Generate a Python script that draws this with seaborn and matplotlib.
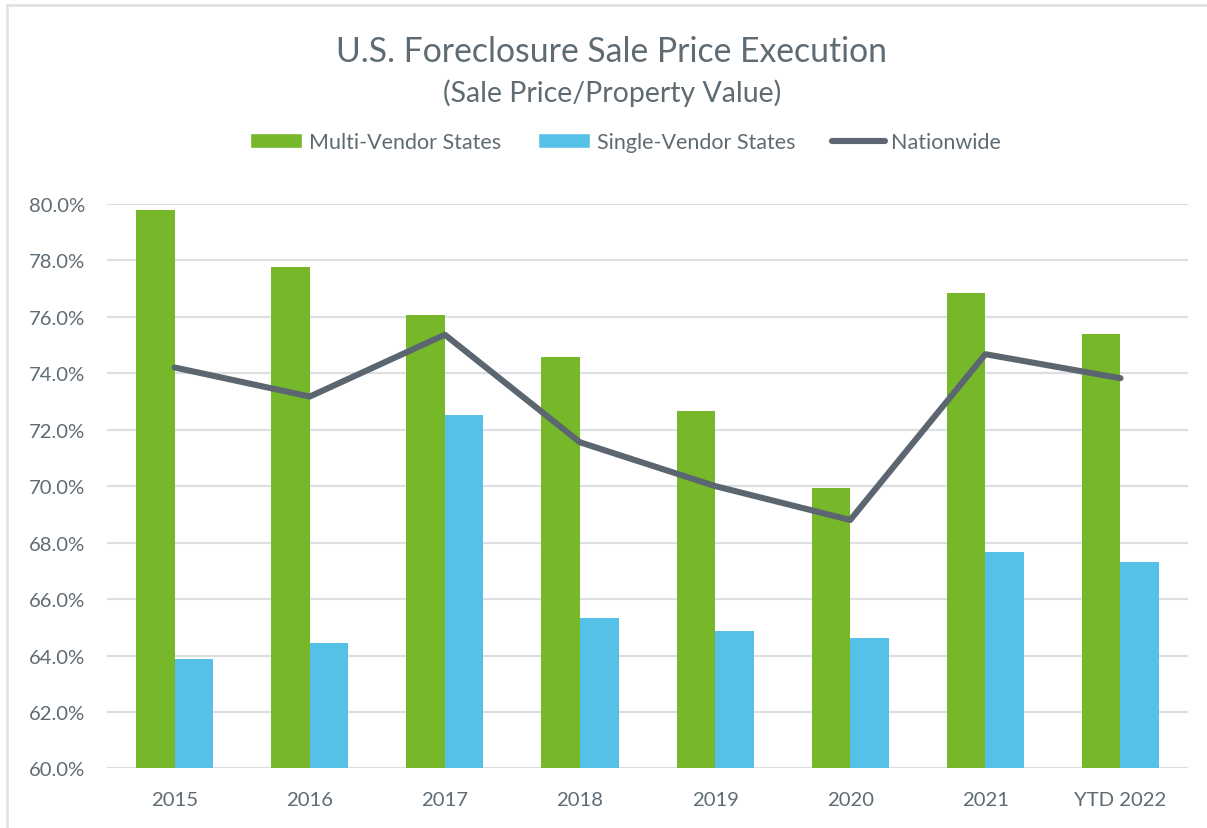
import numpy as np
import pandas as pd
import matplotlib.pyplot as plt
import seaborn as sns
from matplotlib.patches import Patch, Rectangle
from matplotlib.lines import Line2D
from matplotlib.ticker import FuncFormatter

# values (percent)
years = ['2015', '2016', '2017', '2018', '2019', '2020', '2021', 'YTD 2022']
multi_vendor = [79.77, 77.76, 76.05, 74.56, 72.65, 69.92, 76.83, 75.40]
single_vendor = [63.88, 64.44, 72.50, 65.32, 64.87, 64.63, 67.65, 67.32]
nationwide = [74.20, 73.17, 75.36, 71.55, 70.00, 68.80, 74.67, 73.82]

green = '#77B82A'
blue = '#56C1E8'
line_col = '#5B6670'
text_col = '#5F6B73'
grid_col = '#DCE0E3'

df = pd.DataFrame({'year': years * 2,
                   'value': multi_vendor + single_vendor,
                   'group': ['Multi-Vendor States'] * len(years) + ['Single-Vendor States'] * len(years)})

sns.set_theme(style='white')
plt.rcParams['font.family'] = ['Lato', 'DejaVu Sans']

fig = plt.figure(figsize=(12.07, 8.29), dpi=100)
ax = fig.add_axes([0.0887, 0.0718, 0.8956, 0.6813])

sns.barplot(data=df, x='year', y='value', hue='group', order=years,
            palette=[green, blue], width=0.57, saturation=1, linewidth=0,
            ax=ax, legend=False)
sns.lineplot(x=np.arange(len(years)), y=nationwide, color=line_col, linewidth=4.4,
             ax=ax, solid_capstyle='round', zorder=5)

ax.set_ylim(60, 80)
ax.set_xlim(-0.5, len(years) - 0.5)
ax.set_yticks(np.arange(60, 80.1, 2))
ax.yaxis.set_major_formatter(FuncFormatter(lambda v, p: f'{v:.1f}%'))
ax.grid(axis='y', color=grid_col, linewidth=1.6, zorder=0)
ax.set_axisbelow(True)
for s in ax.spines.values():
    s.set_visible(False)
ax.set_xlabel('')
ax.set_ylabel('')
ax.tick_params(axis='y', length=0, pad=16, labelsize=14.6, labelcolor=text_col)
ax.tick_params(axis='x', length=0, pad=16, labelsize=14.6, labelcolor=text_col)

fig.text(0.507, 0.937, 'U.S. Foreclosure Sale Price Execution', ha='center', va='center',
         fontsize=24.3, color=text_col)
fig.text(0.507, 0.887, '(Sale Price/Property Value)', ha='center', va='center',
         fontsize=20.5, color=text_col)

handles = [Patch(facecolor=green, label='Multi-Vendor States'),
           Patch(facecolor=blue, label='Single-Vendor States'),
           Line2D([0], [0], color=line_col, linewidth=4.4, solid_capstyle='round', label='Nationwide')]
fig.legend(handles=handles, loc='center', bbox_to_anchor=(0.518, 0.8275), ncol=3,
           frameon=False, fontsize=15.5, handlelength=2.45, handleheight=0.65,
           handletextpad=0.3, columnspacing=1.7, labelcolor=text_col)

# light frame around the chart
fig.add_artist(Rectangle((0.006, -0.01), 1.1, 1.003, transform=fig.transFigure,
                         fill=False, edgecolor='#E0E3E6', linewidth=2))

fig.savefig('out.png', dpi=100)
